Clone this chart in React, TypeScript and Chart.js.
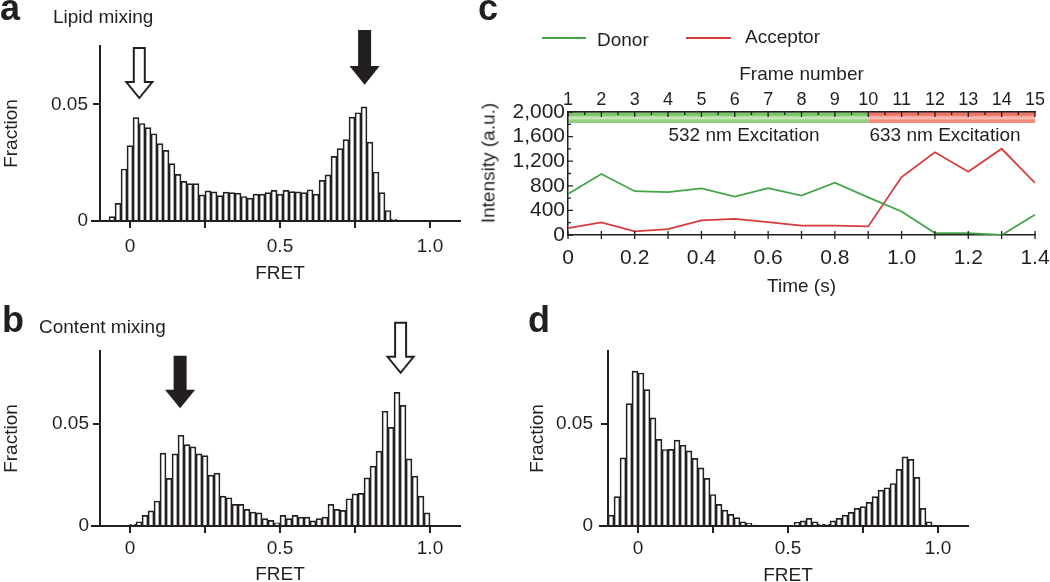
import React, { useEffect, useRef } from 'react';
import { Chart, registerables } from 'chart.js';

Chart.register(...registerables);

const FONT = '"Liberation Sans", Arial, Helvetica, sans-serif';
const INK = '#231f20';
const GREEN = '#43a548';
const RED = '#d93a3a';

// ---------------- Histogram data (FRET histograms, bin width 0.02) ----------------
const BIN_WIDTH = 0.02;

// a: Lipid mixing
const lipidFirstBin = -0.06;
const lipidFraction = [
  0.0019, 0.0076, 0.0223, 0.0323, 0.0443, 0.0418, 0.04, 0.0374, 0.0332, 0.0303,
  0.0246, 0.02, 0.017, 0.016, 0.016, 0.0112, 0.0129, 0.0125, 0.0109, 0.0124,
  0.0122, 0.0119, 0.0105, 0.0098, 0.0115, 0.0115, 0.0122, 0.0131, 0.0115, 0.0131,
  0.0126, 0.0125, 0.0122, 0.0134, 0.0115, 0.0174, 0.0198, 0.0277, 0.031, 0.0349,
  0.0445, 0.0464, 0.0489, 0.0338, 0.021, 0.0122, 0.0045, 0.0007,
];

// b: Content mixing
const contentFirstBin = 0.01;
const contentFraction = [
  0.0008, 0.0021, 0.0052, 0.0074, 0.0123, 0.0358, 0.0234, 0.0355, 0.0446, 0.04,
  0.0389, 0.0355, 0.0346, 0.025, 0.026, 0.0147, 0.0139, 0.0106, 0.0106, 0.0082,
  0.0069, 0.0065, 0.0036, 0.0028, 0.0016, 0.0052, 0.0036, 0.0052, 0.0044, 0.0044,
  0.0025, 0.0036, 0.0044, 0.0106, 0.0082, 0.0077, 0.0134, 0.0158, 0.016, 0.0237,
  0.0294, 0.0368, 0.0564, 0.0485, 0.0657, 0.0593, 0.033, 0.0245, 0.0147, 0.0065,
];

// d
const finalFirstBin = -0.09;
const finalFraction = [
  0.0054, 0.0144, 0.0335, 0.0601, 0.0761, 0.0752, 0.067, 0.0531, 0.0426, 0.0376,
  0.0377, 0.0422, 0.0397, 0.0369, 0.0332, 0.0286, 0.0234, 0.0155, 0.0106, 0.0078,
  0.0057, 0.0041, 0.0021, 0.0013, 0.0005, 0, 0, 0, 0, 0,
  0, 0.0018, 0.0025, 0.0038, 0.0021, 0.001, 0.0008, 0.0025, 0.0038, 0.0054,
  0.0067, 0.0087, 0.0095, 0.0116, 0.0144, 0.0176, 0.0188, 0.0209, 0.0278, 0.034,
  0.0328, 0.0239, 0.0087, 0.0021,
];

const fretTicks = [0, 0.25, 0.5, 0.75, 1.0];
const fretTickLabels = ['0', '', '0.5', '', '1.0'];
const fractionTicks = [0, 0.05];
const fractionTickLabels = ['0', '0.05'];

type Arrow = { x: number; top: number; tip: number; filled: boolean };
const lipidArrows: Arrow[] = [
  { x: 0.031, top: 0.0741, tip: 0.0527, filled: false },
  { x: 0.782, top: 0.0814, tip: 0.0591, filled: true },
];
const contentArrows: Arrow[] = [
  { x: 0.167, top: 0.0832, tip: 0.0586, filled: true },
  { x: 0.902, top: 0.0999, tip: 0.0753, filled: false },
];

// ---------------- Trace data (panel c) ----------------
const timeS = [0, 0.1, 0.2, 0.3, 0.4, 0.5, 0.6, 0.7, 0.8, 0.9, 1.0, 1.1, 1.2, 1.3, 1.4];
const donor = [665, 992, 712, 696, 758, 625, 763, 641, 850, 612, 382, 32, 32, 0, 329];
const acceptor = [113, 205, 59, 97, 237, 262, 208, 153, 153, 140, 942, 1345, 1030, 1402, 846];
const timeTicks = [0, 0.2, 0.4, 0.6, 0.8, 1.0, 1.2, 1.4];
const timeTickLabels = ['0', '0.2', '0.4', '0.6', '0.8', '1.0', '1.2', '1.4'];
const frameNumbers = [1, 2, 3, 4, 5, 6, 7, 8, 9, 10, 11, 12, 13, 14, 15];
const intensityTicks = [0, 400, 800, 1200, 1600, 2000];
const intensityTickLabels = ['0', '400', '800', '1,200', '1,600', '2,000'];
const excitationSwitch = 0.9;
const bandTop = 2000;
const bandBottom = 1820;

// ---------------- helpers ----------------
function binCenters(first: number, n: number): number[] {
  const out: number[] = [];
  for (let i = 0; i < n; i++) out.push(Math.round((first + i * BIN_WIDTH) * 1000) / 1000);
  return out;
}

function arrowPlugin(arrows: Arrow[]) {
  return {
    id: 'arrows',
    afterDraw(chart: any) {
      const { ctx, scales } = chart;
      ctx.save();
      for (const a of arrows) {
        const x = scales.x.getPixelForValue(a.x);
        const yTop = scales.y.getPixelForValue(a.top);
        const yTip = scales.y.getPixelForValue(a.tip);
        const sw = 5.5;
        const hw = 13;
        const hl = 16;
        const yNeck = yTip - hl;
        ctx.beginPath();
        ctx.moveTo(x - sw, yTop);
        ctx.lineTo(x + sw, yTop);
        ctx.lineTo(x + sw, yNeck);
        ctx.lineTo(x + hw, yNeck);
        ctx.lineTo(x, yTip);
        ctx.lineTo(x - hw, yNeck);
        ctx.lineTo(x - sw, yNeck);
        ctx.closePath();
        ctx.fillStyle = a.filled ? INK : '#ffffff';
        ctx.fill();
        ctx.lineWidth = 2;
        ctx.strokeStyle = INK;
        ctx.lineJoin = 'miter';
        ctx.stroke();
      }
      ctx.restore();
    },
  };
}

const axisStub = {
  id: 'axisStub',
  afterDraw(chart: any) {
    const { ctx, chartArea } = chart;
    ctx.save();
    ctx.strokeStyle = INK;
    ctx.lineWidth = 2;
    ctx.beginPath();
    ctx.moveTo(chartArea.left - 9, chartArea.bottom);
    ctx.lineTo(chartArea.left + 1, chartArea.bottom);
    ctx.stroke();
    ctx.restore();
  },
};

type HistOpts = {
  firstBin: number;
  fraction: number[];
  yMax: number;
  arrows: Arrow[];
  padLeft: number;
  padRight: number;
  padTop: number;
  yWidth: number;
  xHeight: number;
  xTickPad: number;
  yTickPad: number;
  xTitlePad: number;
};

function histConfig(o: HistOpts): any {
  const centers = binCenters(o.firstBin, o.fraction.length);
  const tickFont = { family: FONT, size: 19 };
  const titleFont = { family: FONT, size: 19 };
  return {
    type: 'bar',
    data: {
      datasets: [
        {
          data: centers.map((x, i) => ({ x, y: o.fraction[i] })),
          backgroundColor: '#ffffff',
          borderColor: INK,
          borderWidth: 1.7,
          borderSkipped: 'bottom',
          barPercentage: 1,
          categoryPercentage: 1,
        },
      ],
    },
    options: {
      animation: false,
      responsive: false,
      devicePixelRatio: 1,
      events: [],
      layout: { padding: { left: o.padLeft, right: o.padRight, top: o.padTop, bottom: 0 } },
      plugins: { legend: { display: false }, tooltip: { enabled: false } },
      scales: {
        x: {
          type: 'linear',
          min: -0.1,
          max: 1.1,
          offset: false,
          afterBuildTicks: (ax: any) => {
            ax.ticks = fretTicks.map((v) => ({ value: v }));
          },
          afterFit: (ax: any) => {
            ax.height = o.xHeight;
          },
          ticks: {
            callback: (_v: any, i: number) => fretTickLabels[i],
            font: tickFont,
            color: INK,
            padding: o.xTickPad,
            maxRotation: 0,
            autoSkip: false,
          },
          grid: {
            display: true,
            offset: false,
            drawOnChartArea: false,
            drawTicks: true,
            tickLength: 7,
            color: INK,
            lineWidth: 2,
          },
          border: { display: true, color: INK, width: 2 },
          title: {
            display: true,
            text: 'FRET',
            font: titleFont,
            color: INK,
            padding: { top: 0, bottom: o.xTitlePad },
          },
        },
        y: {
          min: 0,
          max: o.yMax,
          afterBuildTicks: (ax: any) => {
            ax.ticks = fractionTicks.map((v) => ({ value: v }));
          },
          afterFit: (ax: any) => {
            ax.width = o.yWidth;
          },
          ticks: {
            callback: (_v: any, i: number) => fractionTickLabels[i],
            font: tickFont,
            color: INK,
            padding: o.yTickPad,
            autoSkip: false,
          },
          grid: {
            display: true,
            drawOnChartArea: false,
            drawTicks: true,
            tickLength: 7,
            color: INK,
            lineWidth: 2,
          },
          border: { display: true, color: INK, width: 2 },
          title: {
            display: true,
            text: 'Fraction',
            font: titleFont,
            color: INK,
            padding: { top: 0, bottom: 0 },
          },
        },
      },
    },
    plugins: [arrowPlugin(o.arrows), axisStub],
  };
}

const bandPlugin = {
  id: 'excitationBand',
  beforeDraw(chart: any) {
    const { ctx, scales } = chart;
    const x = scales.x;
    const y = scales.y;
    const y0 = y.getPixelForValue(bandTop);
    const y1 = y.getPixelForValue(bandBottom);
    const xa = x.getPixelForValue(0);
    const xm = x.getPixelForValue(excitationSwitch);
    const xb = x.getPixelForValue(1.4);
    const paint = (l: number, r: number, dark: string, light: string, mid: string) => {
      const g = ctx.createLinearGradient(0, y0, 0, y1);
      g.addColorStop(0, dark);
      g.addColorStop(0.3, dark);
      g.addColorStop(0.45, light);
      g.addColorStop(0.6, light);
      g.addColorStop(0.75, mid);
      g.addColorStop(1, mid);
      ctx.fillStyle = g;
      ctx.fillRect(l, y0, r - l, y1 - y0);
    };
    ctx.save();
    paint(xa, xm, '#7fc46c', '#c3e6b4', '#93cf81');
    paint(xm, xb, '#ec7469', '#f8b9b1', '#f08a80');
    ctx.restore();
  },
};

const traceTicksPlugin = {
  id: 'traceTicks',
  afterDraw(chart: any) {
    const { ctx, scales, chartArea } = chart;
    const x = scales.x;
    const y = scales.y;
    const x2 = scales.x2;
    ctx.save();
    ctx.strokeStyle = INK;
    ctx.lineWidth = 1.3;
    ctx.beginPath();
    // left axis: ticks every 200, pointing inward
    for (let v = 0; v <= 2000; v += 200) {
      const py = y.getPixelForValue(v);
      const len = v % 400 === 0 ? 5 : 3;
      ctx.moveTo(chartArea.left, py);
      ctx.lineTo(chartArea.left + len, py);
    }
    // bottom axis: ticks every 0.1 s crossing the axis
    for (let i = 0; i <= 14; i++) {
      const px = x.getPixelForValue(i / 10);
      ctx.moveTo(px, chartArea.bottom - 4);
      ctx.lineTo(px, chartArea.bottom + 4);
    }
    // top axis: frame ticks (major) and half-frame ticks (minor), inward
    for (let f = 1; f <= 15; f += 0.5) {
      const px = x2.getPixelForValue(f);
      const len = Number.isInteger(f) ? 5 : 3;
      ctx.moveTo(px, chartArea.top);
      ctx.lineTo(px, chartArea.top + len);
    }
    ctx.stroke();
    ctx.restore();
  },
};

function traceConfig(): any {
  return {
    type: 'line',
    data: {
      datasets: [
        {
          label: 'Donor',
          data: timeS.map((t, i) => ({ x: t, y: donor[i] })),
          borderColor: GREEN,
          borderWidth: 1.8,
          pointRadius: 0,
          tension: 0,
          xAxisID: 'x',
          yAxisID: 'y',
        },
        {
          label: 'Acceptor',
          data: timeS.map((t, i) => ({ x: t, y: acceptor[i] })),
          borderColor: RED,
          borderWidth: 1.8,
          pointRadius: 0,
          tension: 0,
          xAxisID: 'x',
          yAxisID: 'y',
        },
      ],
    },
    options: {
      animation: false,
      responsive: false,
      devicePixelRatio: 1,
      events: [],
      layout: { padding: { left: 0, right: 35, top: 60, bottom: 0 } },
      plugins: { legend: { display: false }, tooltip: { enabled: false } },
      scales: {
        x: {
          type: 'linear',
          position: 'bottom',
          min: 0,
          max: 1.4,
          afterBuildTicks: (ax: any) => {
            ax.ticks = timeTicks.map((v) => ({ value: v }));
          },
          afterFit: (ax: any) => {
            ax.height = 65;
          },
          ticks: {
            callback: (_v: any, i: number) => timeTickLabels[i],
            font: { family: FONT, size: 21 },
            color: INK,
            padding: 11,
            maxRotation: 0,
            autoSkip: false,
          },
          grid: { display: false, drawTicks: false },
          border: { display: true, color: INK, width: 1.5 },
          title: {
            display: true,
            text: 'Time (s)',
            font: { family: FONT, size: 19 },
            color: INK,
            padding: { top: 0, bottom: 2 },
          },
        },
        x2: {
          type: 'linear',
          axis: 'x',
          position: 'top',
          min: 1,
          max: 15,
          afterBuildTicks: (ax: any) => {
            ax.ticks = frameNumbers.map((v) => ({ value: v }));
          },
          afterFit: (ax: any) => {
            ax.height = 52;
          },
          ticks: {
            callback: (_v: any, i: number) => String(frameNumbers[i]),
            font: { family: FONT, size: 18 },
            color: INK,
            padding: 1,
            maxRotation: 0,
            autoSkip: false,
          },
          grid: { display: false, drawTicks: false },
          border: { display: true, color: INK, width: 1.5 },
          title: {
            display: true,
            text: 'Frame number',
            font: { family: FONT, size: 19 },
            color: INK,
            padding: { top: 3, bottom: 0 },
          },
        },
        y: {
          min: 0,
          max: 2000,
          afterBuildTicks: (ax: any) => {
            ax.ticks = intensityTicks.map((v) => ({ value: v }));
          },
          afterFit: (ax: any) => {
            ax.width = 98;
          },
          ticks: {
            callback: (_v: any, i: number) => intensityTickLabels[i],
            font: { family: FONT, size: 21 },
            color: INK,
            padding: 3,
            autoSkip: false,
          },
          grid: { display: false, drawTicks: false },
          border: { display: true, color: INK, width: 1.5 },
        },
      },
    },
    plugins: [bandPlugin, traceTicksPlugin],
  };
}

function ChartBox(props: { left: number; top: number; width: number; height: number; make: () => any }) {
  const ref = useRef<HTMLCanvasElement>(null);
  useEffect(() => {
    const chart = new Chart(ref.current as HTMLCanvasElement, props.make());
    return () => chart.destroy();
  }, []);
  return (
    <canvas
      ref={ref}
      width={props.width}
      height={props.height}
      style={{ position: 'absolute', left: props.left, top: props.top, width: props.width, height: props.height }}
    />
  );
}

function Label(props: {
  text: string;
  left: number;
  baseline: number;
  size: number;
  bold?: boolean;
  center?: boolean;
}) {
  const top = props.baseline - 0.8465 * props.size;
  return (
    <div
      style={{
        position: 'absolute',
        left: props.left,
        top,
        fontSize: props.size,
        lineHeight: 1,
        fontWeight: props.bold ? 700 : 400,
        whiteSpace: 'nowrap',
        transform: props.center ? 'translateX(-50%)' : undefined,
      }}
    >
      {props.text}
    </div>
  );
}

export default function App() {
  return (
    <div
      style={{
        position: 'absolute',
        left: 0,
        top: 0,
        width: 1050,
        height: 582,
        overflow: 'hidden',
        background: '#ffffff',
        fontFamily: FONT,
        color: INK,
      }}
    >
      <ChartBox
        left={0}
        top={0}
        width={470}
        height={290}
        make={() =>
          histConfig({
            firstBin: lipidFirstBin,
            fraction: lipidFraction,
            yMax: 0.075,
            arrows: lipidArrows,
            padLeft: 0,
            padRight: 10,
            padTop: 46,
            yWidth: 100,
            xHeight: 69,
            xTickPad: 7,
            yTickPad: 5,
            xTitlePad: 5,
          })
        }
      />
      <ChartBox
        left={0}
        top={290}
        width={470}
        height={300}
        make={() =>
          histConfig({
            firstBin: contentFirstBin,
            fraction: contentFraction,
            yMax: 0.086,
            arrows: contentArrows,
            padLeft: 0,
            padRight: 10,
            padTop: 61,
            yWidth: 100,
            xHeight: 64,
            xTickPad: 4,
            yTickPad: 4,
            xTitlePad: 4,
          })
        }
      />
      <ChartBox left={470} top={0} width={600} height={300} make={traceConfig} />
      <ChartBox
        left={470}
        top={290}
        width={580}
        height={300}
        make={() =>
          histConfig({
            firstBin: finalFirstBin,
            fraction: finalFraction,
            yMax: 0.086,
            arrows: [],
            padLeft: 56,
            padRight: 82,
            padTop: 61,
            yWidth: 82,
            xHeight: 64,
            xTickPad: 4,
            yTickPad: 8,
            xTitlePad: 3,
          })
        }
      />

      {/* panel letters and titles */}
      <Label text="a" left={0} baseline={20} size={36} bold />
      <Label text="Lipid mixing" left={53} baseline={23} size={19} />
      <Label text="b" left={2} baseline={332} size={36} bold />
      <Label text="Content mixing" left={39} baseline={333} size={19} />
      <Label text="c" left={478} baseline={20} size={36} bold />
      <Label text="d" left={528} baseline={332} size={36} bold />

      {/* panel c legend */}
      <div style={{ position: 'absolute', left: 542, top: 37, width: 44, height: 2, background: GREEN }} />
      <Label text="Donor" left={597} baseline={46.5} size={19} />
      <div style={{ position: 'absolute', left: 686, top: 37, width: 45, height: 2, background: RED }} />
      <Label text="Acceptor" left={745} baseline={43.5} size={19} />

      {/* panel c annotations */}
      <Label text="532 nm Excitation" left={744} baseline={141.5} size={19} center />
      <Label text="633 nm Excitation" left={945} baseline={141.5} size={19} center />
      <div
        style={{
          position: 'absolute',
          left: 487.5,
          top: 163,
          fontSize: 19,
          lineHeight: 1,
          whiteSpace: 'nowrap',
          transform: 'translate(-50%, -50%) rotate(-90deg)',
        }}
      >
        Intensity (a.u.)
      </div>
    </div>
  );
}
